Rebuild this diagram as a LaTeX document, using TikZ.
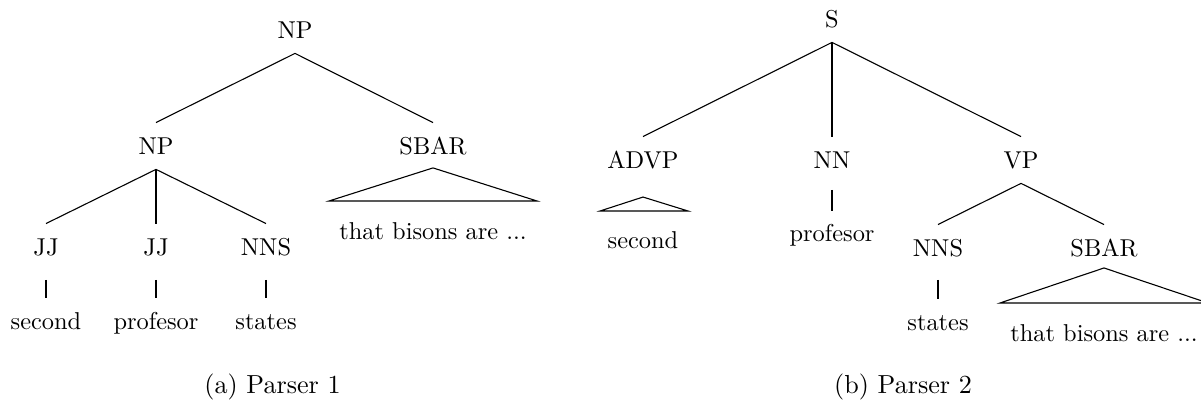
\documentclass[tikz,border=0pt]{standalone}
\begin{document}
\begin{tikzpicture}[x=0.41pt, y=-0.41pt,
  cat/.style={anchor=base, inner sep=0pt, text height=13.1pt, text depth=5.7pt, font=\fontsize{10}{12}\selectfont},
  word/.style={anchor=base, inner sep=0pt, font=\fontsize{10}{12}\selectfont},
  capt/.style={anchor=base, inner sep=0pt, font=\fontsize{10.7}{13}\selectfont},
  edge/.style={line width=0.45pt}]
\useasboundingbox (0,0) rectangle (1201,403);

% ---------- (a) Parser 1 ----------
\node[cat] (npA) at (295,39) {NP};
\node[cat] (npB) at (156,155) {NP};
\node[cat] (sbarA) at (433,155) {SBAR};
\node[cat] (jjA) at (46,256) {JJ};
\node[cat] (jjB) at (156,256) {JJ};
\node[cat] (nnsA) at (266,256) {NNS};
\node[word] (secA) at (46,330) {second};
\node[word] (profA) at (156,330) {profesor};
\node[word] (statesA) at (266,330) {states};
\node[word] (thatA) at (433,240) {that bisons are ...};
\coordinate (triAL) at (329,201);
\coordinate (triAR) at (537,201);

\draw[edge] (npA.south) -- (npB.north);
\draw[edge] (npA.south) -- (sbarA.north);
\draw[edge] (npB.south) -- (jjA.north);
\draw[edge] (npB.south) -- (jjB.north);
\draw[edge] (npB.south) -- (nnsA.north);
\draw[edge] ([yshift=-9.8pt]jjA.base) -- ([yshift=13.1pt]secA.base);
\draw[edge] ([yshift=-9.8pt]jjB.base) -- ([yshift=13.1pt]profA.base);
\draw[edge] ([yshift=-9.8pt]nnsA.base) -- ([yshift=13.1pt]statesA.base);
\draw[edge] ([yshift=-5.3pt]sbarA.base) -- (triAL) -- (triAR) -- cycle;

\node[capt] (capA) at (272.5,393) {(a) Parser 1};

% ---------- (b) Parser 2 ----------
\node[cat] (s) at (832,28) {S};
\node[cat] (advp) at (643,169) {ADVP};
\node[cat] (nn) at (832,169) {NN};
\node[cat] (vp) at (1021,169) {VP};
\node[cat] (nnsB) at (938,257) {NNS};
\node[cat] (sbarB) at (1104,257) {SBAR};
\node[word] (secB) at (643,249) {second};
\node[word] (profB) at (832,242) {profesor};
\node[word] (statesB) at (938,331) {states};
\node[word] (thatB) at (1104,342) {that bisons are ...};
\coordinate (triBL) at (600,211);
\coordinate (triBR) at (688,211);
\coordinate (triCL) at (1000,303);
\coordinate (triCR) at (1208,303);

\draw[edge] (s.south) -- (advp.north);
\draw[edge] (s.south) -- (nn.north);
\draw[edge] (s.south) -- (vp.north);
\draw[edge] (vp.south) -- (nnsB.north);
\draw[edge] (vp.south) -- (sbarB.north);
\draw[edge] ([yshift=-11.5pt]advp.base) -- (triBL) -- (triBR) -- cycle;
\draw[edge] ([yshift=-8.6pt]nn.base) -- ([yshift=12.7pt]profB.base);
\draw[edge] ([yshift=-9.4pt]nnsB.base) -- ([yshift=13.1pt]statesB.base);
\draw[edge] ([yshift=-4.5pt]sbarB.base) -- (triCL) -- (triCR) -- cycle;

\node[capt] (capB) at (903,393) {(b) Parser 2};
\end{tikzpicture}
\end{document}
